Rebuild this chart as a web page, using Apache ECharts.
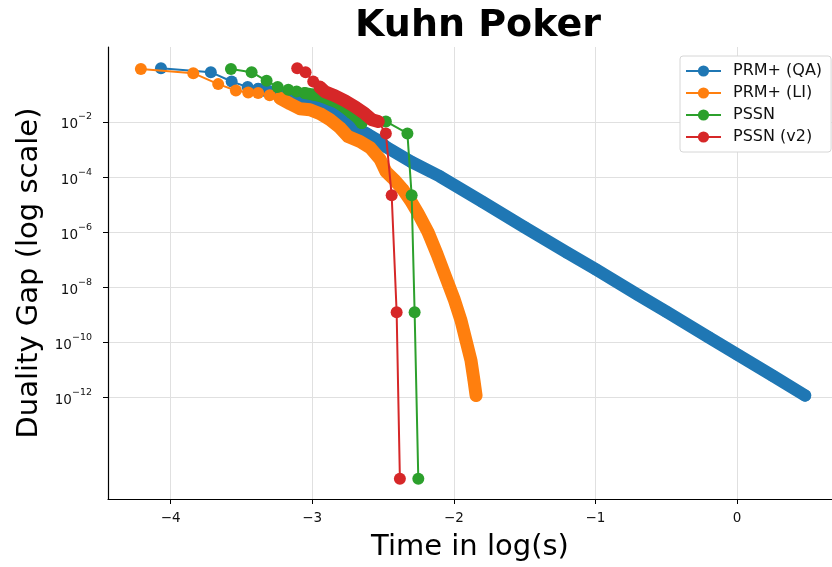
<!DOCTYPE html>
<html>
<head>
<meta charset="utf-8">
<script src="https://cdn.jsdelivr.net/npm/echarts@6/dist/echarts.min.js"></script>
<style>
html,body{margin:0;padding:0;background:#fff;}
#chart{width:832px;height:567px;}
</style>
</head>
<body>
<div id="chart"></div>
<script>
// ---- data (x: log10 of time in s, y: log10 of duality gap) ----
const seriesNames = ['PRM+ (QA)', 'PRM+ (LI)', 'PSSN', 'PSSN (v2)'];
const xTicks = [-4, -3, -2, -1, 0];
const yTicks = [-12, -10, -8, -6, -4, -2];

const blueLogTime = [-4.068,-3.716,-3.569,-3.456,-3.381,-3.30,-3.20,-3.10,-3.00,-2.90,-2.80,-2.713,-2.616,-2.545,-2.48,-2.30,-2.10,-1.80,-1.50,-1.20,-1.00,-0.70,-0.50,-0.20,0.00,0.25,0.48];
const blueLogGap  = [-0.05,-0.195,-0.534,-0.736,-0.809,-0.90,-1.02,-1.15,-1.30,-1.55,-1.85,-2.16,-2.42,-2.64,-2.90,-3.45,-3.97,-4.89,-5.82,-6.74,-7.34,-8.27,-8.88,-9.81,-10.43,-11.20,-11.92];

const orangeLogTime = [-4.21,-3.84,-3.664,-3.539,-3.452,-3.382,-3.30,-3.228,-3.157,-3.087,-3.016,-2.945,-2.875,-2.804,-2.747,-2.663,-2.592,-2.521,-2.48,-2.42,-2.36,-2.30,-2.253,-2.182,-2.119,-2.055,-1.999,-1.949,-1.914,-1.879,-1.858,-1.843];
const orangeLogGap  = [-0.076,-0.231,-0.628,-0.859,-0.931,-0.953,-1.03,-1.14,-1.34,-1.52,-1.556,-1.70,-1.917,-2.21,-2.53,-2.71,-2.93,-3.35,-3.80,-4.10,-4.45,-4.90,-5.31,-6.00,-6.79,-7.66,-8.415,-9.21,-9.93,-10.65,-11.37,-11.92];

const greenLogTime = [-3.574,-3.428,-3.322,-3.244,-3.169,-3.110,-3.052,-2.99,-2.934,-2.875,-2.816,-2.77,-2.722,-2.68,-2.651,-2.480,-2.328,-2.298,-2.277,-2.251];
const greenLogGap  = [-0.076,-0.195,-0.509,-0.736,-0.834,-0.895,-0.953,-1.01,-1.076,-1.19,-1.314,-1.48,-1.675,-1.85,-2.036,-1.98,-2.415,-4.66,-8.90,-14.94];

const redLogTime = [-3.106,-3.047,-2.993,-2.946,-2.910,-2.840,-2.769,-2.698,-2.628,-2.578,-2.534,-2.480,-2.439,-2.404,-2.381];
const redLogGap  = [-0.05,-0.195,-0.534,-0.736,-0.906,-1.05,-1.23,-1.448,-1.70,-1.917,-1.98,-2.42,-4.66,-8.90,-14.94];

// ---- presentation ----
const colors = ['#1f77b4', '#ff7f0e', '#2ca02c', '#d62728'];
const allTimes = [blueLogTime, orangeLogTime, greenLogTime, redLogTime];
const allGaps = [blueLogGap, orangeLogGap, greenLogGap, redLogGap];
// index ranges where the markers are so dense that they merge into a band
const bandRanges = [[4, 26], [7, 31], [6, 14], [3, 10]];
const bandWidths = [12.5, 13, 12, 13];
const FONT = 'DejaVu Sans';
const MS = 12;

function pairs(xs, ys, a, b) {
  const out = [];
  for (let i = a; i <= b; i++) out.push([xs[i], ys[i]]);
  return out;
}
function minusFmt(v) { return v < 0 ? '\u2212' + Math.abs(v) : String(v); }

const series = [];
for (let k = 0; k < 4; k++) {
  const xs = allTimes[k], ys = allGaps[k];
  series.push({
    name: seriesNames[k],
    type: 'line',
    data: pairs(xs, ys, 0, xs.length - 1),
    symbol: 'circle',
    symbolSize: MS,
    showSymbol: true,
    color: colors[k],
    lineStyle: { width: 2, color: colors[k] },
    itemStyle: { color: colors[k], borderWidth: 0 },
    z: 2 + k * 2,
    animation: false,
    clip: true
  });
  series.push({
    name: seriesNames[k] + ' band',
    type: 'line',
    data: pairs(xs, ys, bandRanges[k][0], bandRanges[k][1]),
    symbol: 'none',
    lineStyle: { width: bandWidths[k], color: colors[k], cap: 'round', join: 'round' },
    z: 3 + k * 2,
    animation: false,
    silent: true,
    clip: true
  });
}

const chart = echarts.init(document.getElementById('chart'), null, { renderer: 'canvas' });
chart.setOption({
  animation: false,
  backgroundColor: '#ffffff',
  title: {
    text: 'Kuhn Poker',
    left: 473,
    top: 2,
    textAlign: 'center',
    textStyle: { fontFamily: FONT, fontWeight: 'bold', fontSize: 38, color: '#000' }
  },
  grid: { left: 108, right: 0, top: 47, bottom: 66, containLabel: false },
  legend: {
    data: seriesNames,
    orient: 'vertical',
    left: 680,
    top: 56,
    padding: [7, 9, 7, 5],
    itemWidth: 35,
    itemHeight: 14,
    itemGap: 6,
    backgroundColor: '#ffffff',
    borderColor: '#d6d6d6',
    borderWidth: 1,
    borderRadius: 3,
    textStyle: { fontFamily: FONT, fontSize: 16, color: '#111', padding: [0, 0, 0, 7] }
  },
  xAxis: {
    type: 'value',
    min: -4.442,
    max: 0.670,
    name: 'Time in log(s)',
    nameLocation: 'middle',
    nameGap: 34,
    nameTextStyle: { fontFamily: FONT, fontSize: 29, color: '#000' },
    axisLine: { show: true, onZero: false, lineStyle: { color: '#000', width: 1.2 } },
    axisTick: { show: true, customValues: xTicks, length: 5, lineStyle: { color: '#000', width: 1 } },
    axisLabel: { customValues: xTicks, formatter: minusFmt, margin: 12, fontFamily: FONT, fontSize: 13.5, color: '#111' },
    splitLine: { show: true, lineStyle: { color: '#e0e0e0', width: 1 } }
  },
  yAxis: {
    type: 'value',
    min: -15.672,
    max: 0.718,
    name: 'Duality Gap (log scale)',
    nameLocation: 'middle',
    nameGap: 62,
    nameRotate: 90,
    nameTextStyle: { fontFamily: FONT, fontSize: 29, color: '#000' },
    axisLine: { show: true, onZero: false, lineStyle: { color: '#000', width: 1.2 } },
    axisTick: { show: true, customValues: yTicks, length: 5, lineStyle: { color: '#000', width: 1 } },
    axisLabel: {
      customValues: yTicks,
      margin: 16,
      formatter: function (v) { return '{b|10}{s|' + minusFmt(v) + '}'; },
      rich: {
        b: { fontFamily: FONT, fontSize: 13.5, color: '#111', lineHeight: 20, verticalAlign: 'bottom' },
        s: { fontFamily: FONT, fontSize: 9.5, color: '#111', lineHeight: 12, verticalAlign: 'top' }
      }
    },
    splitLine: { show: true, lineStyle: { color: '#e0e0e0', width: 1 } }
  },
  series: series
});
</script>
</body>
</html>
